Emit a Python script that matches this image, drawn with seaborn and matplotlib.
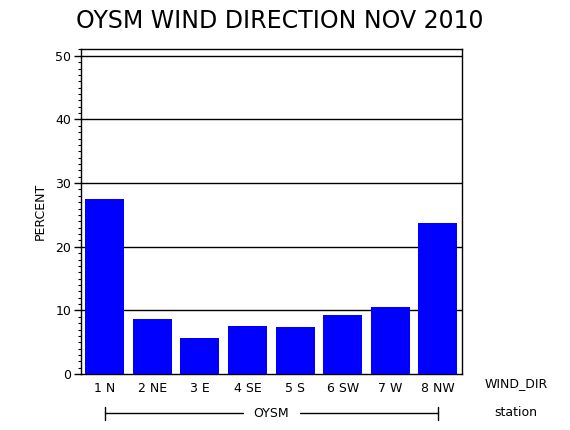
import pandas as pd
import matplotlib
matplotlib.use("Agg")
import matplotlib.pyplot as plt
import seaborn as sns
from matplotlib.ticker import MultipleLocator

# datos
direcciones = ['1 N', '2 NE', '3 E', '4 SE', '5 S', '6 SW', '7 W', '8 NW']
porcentajes = [27.5, 8.65, 5.66, 7.55, 7.39, 9.28, 10.54, 23.75]
estacion = 'OYSM'
titulo = 'OYSM WIND DIRECTION NOV 2010'

df = pd.DataFrame({'wind_dir': direcciones, 'percent': porcentajes})

sns.set_style("ticks")
plt.rcParams['font.family'] = ['DejaVu Sans']
plt.rcParams['text.color'] = 'black'
plt.rcParams['xtick.color'] = 'black'
plt.rcParams['ytick.color'] = 'black'
plt.rcParams['axes.labelcolor'] = 'black'

fig = plt.figure(figsize=(5.7, 4.3), dpi=100)
ax = fig.add_axes([0.142, 0.130, 0.668, 0.755])

sns.barplot(x='wind_dir', y='percent', data=df, color='#0000ff',
            saturation=1, width=0.82, linewidth=0, ax=ax, zorder=3)

ax.set_xlim(-0.5, 7.5)
ax.set_ylim(0, 51)
ax.yaxis.set_major_locator(MultipleLocator(10))
ax.yaxis.set_minor_locator(MultipleLocator(1))
# lineas horizontales negras en cada 10
for v in range(10, 51, 10):
    ax.axhline(v, color='black', lw=1, zorder=1)

for lado in ax.spines.values():
    lado.set_color('black')
    lado.set_linewidth(1)

ax.tick_params(axis='y', which='major', length=5, width=1, labelsize=9, pad=2)
ax.tick_params(axis='y', which='minor', length=2.5, width=0.8)
ax.tick_params(axis='x', length=0, labelsize=9, pad=6)
ax.set_xlabel('')
ax.set_ylabel('PERCENT', fontsize=9, labelpad=6)

fig.text(0.49, 0.952, titulo, ha='center', va='center', fontsize=17)
fig.text(0.905, 0.109, 'WIND_DIR', ha='center', va='center', fontsize=9)
fig.text(0.905, 0.040, 'station', ha='center', va='center', fontsize=9)

# linea de la estacion debajo de las categorias
y_est = -0.12
trans = ax.get_xaxis_transform()
ax.plot([0, 2.9], [y_est, y_est], color='black', lw=1, transform=trans, clip_on=False)
ax.plot([4.1, 7], [y_est, y_est], color='black', lw=1, transform=trans, clip_on=False)
for xx in (0, 7):
    ax.plot([xx, xx], [y_est - 0.02, y_est + 0.02], color='black', lw=1,
            transform=trans, clip_on=False)
ax.text(3.5, y_est, estacion, ha='center', va='center', fontsize=9, transform=trans)

fig.savefig('out.png', dpi=100)
plt.close(fig)
